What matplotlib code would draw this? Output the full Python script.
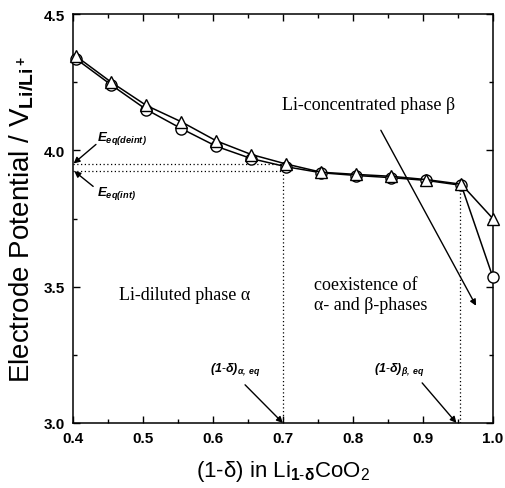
import matplotlib
matplotlib.use("Agg")
import matplotlib.pyplot as plt
from matplotlib.ticker import MultipleLocator, FormatStrFormatter

x = [0.405, 0.455, 0.505, 0.555, 0.605, 0.655, 0.705, 0.755, 0.805, 0.855, 0.905, 0.955, 1.0]
deint = [4.345, 4.25, 4.165, 4.105, 4.035, 3.985, 3.95, 3.92, 3.912, 3.905, 3.893, 3.876, 3.75]
intc = [4.335, 4.24, 4.15, 4.08, 4.015, 3.97, 3.94, 3.918, 3.908, 3.9, 3.89, 3.872, 3.535]
E_deint = 3.949
E_int = 3.926
x_alpha = 0.70
x_beta = 0.953

plt.rcParams['font.family'] = ['Liberation Sans', 'DejaVu Sans']
plt.rcParams['mathtext.fontset'] = 'custom'
plt.rcParams['mathtext.rm'] = 'Liberation Sans'
plt.rcParams['mathtext.it'] = 'Liberation Sans:italic'
plt.rcParams['mathtext.bf'] = 'Liberation Sans:bold'
plt.rcParams['mathtext.sf'] = 'Liberation Sans:italic:bold'

fig = plt.figure(figsize=(5.06, 4.89), dpi=100)
ax = fig.add_axes([0.144, 0.133, 0.830, 0.836])

ax.plot(x, intc, '-', color='black', lw=1.1, marker='o', ms=8, mfc='white', mec='black',
        mew=1.0, zorder=3, clip_on=False)
ax.plot(x, deint, '-', color='black', lw=1.1, marker='^', ms=9, mfc='white', mec='black',
        mew=1.0, zorder=4, clip_on=False)

dot = dict(color='black', lw=0.9, ls=(0, (1, 2)))
ax.plot([0.4, x_alpha], [E_deint, E_deint], **dot)
ax.plot([0.4, x_alpha], [E_int, E_int], **dot)
ax.plot([x_alpha, x_alpha], [3.0, 3.94], **dot)
ax.plot([x_beta, x_beta], [3.0, 3.87], **dot)

arr = dict(arrowstyle='-|>', color='black', lw=1.0, mutation_scale=9, shrinkA=0, shrinkB=0)
ax.annotate('', xy=(0.401, 3.952), xytext=(0.433, 4.022), arrowprops=arr)
ax.annotate('', xy=(0.402, 3.924), xytext=(0.429, 3.868), arrowprops=arr)
ax.annotate('', xy=(0.700, 3.0), xytext=(0.646, 3.14), arrowprops=arr)
ax.annotate('', xy=(0.948, 3.0), xytext=(0.899, 3.147), arrowprops=arr)
ax.annotate('', xy=(0.976, 3.43), xytext=(0.84, 4.074), arrowprops=arr)

ax.text(0.434, 4.046, r'$\mathsf{E_{eq(deint)}}$', fontsize=9.5, ha='left', va='center')
ax.text(0.434, 3.846, r'$\mathsf{E_{eq(int)}}$', fontsize=9.5, ha='left', va='center')
ax.text(0.632, 3.2, r'$\mathsf{(1\text{-}\delta)_{\alpha,\ eq}}$', fontsize=9, ha='center', va='center')
ax.text(0.866, 3.2, r'$\mathsf{(1\text{-}\delta)_{\beta,\ eq}}$', fontsize=9, ha='center', va='center')

serif = ['Liberation Serif', 'DejaVu Serif']
ax.text(0.56, 3.47, 'Li-diluted phase α', family=serif, fontsize=13, ha='center', va='center')
ax.text(0.823, 4.169, 'Li-concentrated phase β', family=serif, fontsize=13, ha='center', va='center')
ax.text(0.744, 3.507, 'coexistence of', family=serif, fontsize=13, ha='left', va='center')
ax.text(0.744, 3.434, 'α- and β-phases', family=serif, fontsize=13, ha='left', va='center')

ax.set_xlim(0.4, 1.0)
ax.set_ylim(3.0, 4.5)
ax.xaxis.set_major_locator(MultipleLocator(0.1))
ax.xaxis.set_minor_locator(MultipleLocator(0.05))
ax.yaxis.set_major_locator(MultipleLocator(0.5))
ax.yaxis.set_minor_locator(MultipleLocator(0.25))
ax.tick_params(which='both', direction='in', top=True, right=True, width=1.0)
ax.tick_params(which='major', length=5, labelsize=11, pad=6)
ax.tick_params(which='minor', length=3)
ax.xaxis.set_major_formatter(FormatStrFormatter('%.1f'))
ax.yaxis.set_major_formatter(FormatStrFormatter('%.1f'))
for lab in ax.get_xticklabels() + ax.get_yticklabels():
    lab.set_fontweight('bold')
for s in ax.spines.values():
    s.set_linewidth(1.1)

ax.set_xlabel(r'(1-δ) in Li$_{\mathbf{1\text{-}\delta}}$CoO$_2$', fontsize=16, labelpad=9)
ax.set_ylabel(r'Electrode Potential / V$_{\mathbf{Li/Li^+}}$', fontsize=20, labelpad=6)

fig.savefig('out.png', dpi=100)
